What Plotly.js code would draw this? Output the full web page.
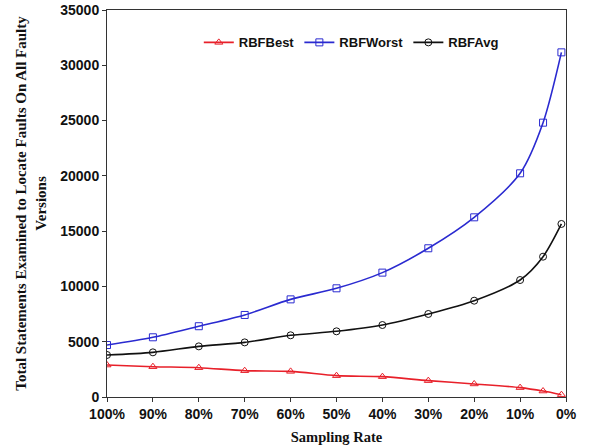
<!DOCTYPE html>
<html>
<head>
<meta charset="utf-8">
<script src="https://cdn.plot.ly/plotly-3.0.1.min.js"></script>
<style>html,body{margin:0;padding:0;background:#fff;}#chart{width:591px;height:447px;}</style>
</head>
<body>
<div id="chart"></div>
<script>
const samplingRate = [100, 90, 80, 70, 60, 50, 40, 30, 20, 10, 5, 1];
const rbfBest  = [2890, 2740, 2650, 2380, 2320, 1930, 1840, 1480, 1180, 850, 540, 210];
const rbfWorst = [4700, 5400, 6400, 7420, 8830, 9830, 11250, 13450, 16250, 20230, 24810, 31170];
const rbfAvg   = [3800, 4040, 4580, 4940, 5580, 5940, 6510, 7510, 8710, 10580, 12690, 15650];
const xTickVals = [100, 90, 80, 70, 60, 50, 40, 30, 20, 10, 0];
const xTickText = ['100%', '90%', '80%', '70%', '60%', '50%', '40%', '30%', '20%', '10%', '0%'];
const yTickVals = [0, 5000, 10000, 15000, 20000, 25000, 30000, 35000];
const yTickText = ['0', '5000', '10000', '15000', '20000', '25000', '30000', '35000'];

const mk = (name, y, color, symbol) => ({
  x: samplingRate, y: y, name: name, type: 'scatter', mode: 'lines+markers',
  line: {color: color, width: 1.6, shape: 'spline', smoothing: 0.8},
  marker: {symbol: symbol, size: 7, color: color, line: {color: color, width: 1}}
});

const data = [
  mk('RBFBest', rbfBest, '#e8202a', 'triangle-up-open'),
  mk('RBFWorst', rbfWorst, '#2a2ad0', 'square-open'),
  mk('RBFAvg', rbfAvg, '#111111', 'circle-open')
];

const tickFont = {family: 'Liberation Sans, Arial', size: 14, color: '#111', weight: 'bold'};

const layout = {
  width: 591, height: 447,
  margin: {l: 107, r: 25, t: 10, b: 50},
  paper_bgcolor: '#fff', plot_bgcolor: '#fff',
  showlegend: true,
  legend: {orientation: 'h', x: 0.2, y: 0.955, xanchor: 'left', yanchor: 'top',
           font: {family: 'Liberation Sans, Arial', size: 13, color: '#111', weight: 'bold'},
           bgcolor: 'rgba(0,0,0,0)', tracegroupgap: 0},
  xaxis: {
    range: [100, 0], tickmode: 'array', tickvals: xTickVals, ticktext: xTickText,
    showgrid: false, zeroline: false, showline: true, linecolor: '#333', linewidth: 1, mirror: true,
    ticks: 'outside', ticklen: 4, tickcolor: '#333',
    tickfont: tickFont,
    title: {text: '<b>Sampling Rate</b>', font: {family: 'Liberation Serif, Times New Roman', size: 14.5, color: '#111'}, standoff: 11},
    automargin: false
  },
  yaxis: {
    range: [0, 35000], tickmode: 'array', tickvals: yTickVals, ticktext: yTickText,
    showgrid: false, zeroline: false, showline: true, linecolor: '#333', linewidth: 1, mirror: true,
    ticks: 'outside', ticklen: 4, tickcolor: '#333',
    tickfont: tickFont,
    title: {text: '<b>Total Statements Examined to Locate Faults On All Faulty<br>Versions</b>', font: {family: 'Liberation Serif, Times New Roman', size: 15, color: '#111'}, standoff: 10},
    automargin: false
  }
};

Plotly.newPlot('chart', data, layout, {displayModeBar: false, staticPlot: true});
</script>
</body>
</html>
